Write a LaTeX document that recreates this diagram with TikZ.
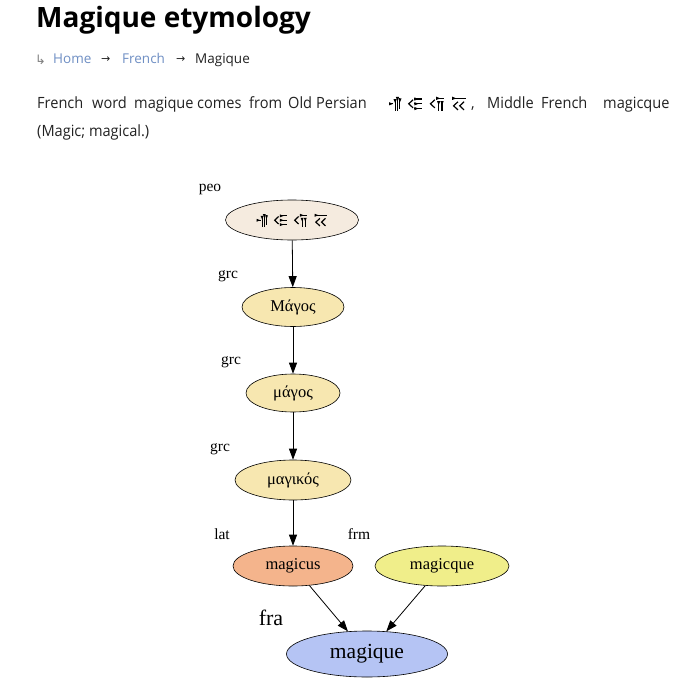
\documentclass[tikz,border=0pt]{standalone}
\usepackage{fontspec}
\setmainfont{Liberation Serif}
\newfontfamily\uifont{Open Sans}
\newfontfamily\bodyfont[FakeStretch=0.94]{Open Sans}
\newfontfamily\symfont{DejaVu Sans}
\usetikzlibrary{shapes.geometric,arrows.meta}
\definecolor{peofill}{HTML}{F5EBDF}
\definecolor{grcfill}{HTML}{F7E7B0}
\definecolor{latfill}{HTML}{F4B48C}
\definecolor{frmfill}{HTML}{F0EE8A}
\definecolor{frafill}{HTML}{B5C4F4}
\definecolor{linkcol}{HTML}{6F8FC4}
\definecolor{bodytext}{HTML}{222222}
% cuneiform wedge primitives (glyph units, y downwards)
\newcommand\cwV[3]{%
  \fill (#1-0.12,#2) -- (#1+0.12,#2) -- (#1,#2+0.3) -- cycle;
  \draw[line width=1.2pt] (#1,#2) -- (#1,#3);}
\newcommand\cwH[3]{%
  \fill (#2,#1-0.12) -- (#2,#1+0.12) -- (#2+0.3,#1) -- cycle;
  \draw[line width=1.2pt] (#2,#1) -- (#3,#1);}
\newcommand\cwW[2]{%
  \draw[line width=1.2pt,line join=miter] (#1+0.32,#2-0.3) -- (#1,#2) -- (#1+0.32,#2+0.3);}
\newcommand\cuneiform[3]{%
  \begin{scope}[shift={(#1,#2)},x=#3,y=-#3]
    % ma
    \cwH{0.5}{0}{0.32}
    \cwV{0.45}{0.15}{1}
    \cwV{0.62}{0}{1}
    \cwV{0.8}{0.1}{0.9}
    % gu
    \begin{scope}[xshift=1.45*#3]
      \cwW{0}{0.5}
      \cwH{0.15}{0.42}{1}
      \cwH{0.5}{0.42}{1}
      \cwH{0.85}{0.42}{1}
    \end{scope}
    % u
    \begin{scope}[xshift=3.05*#3]
      \cwW{0}{0.5}
      \cwH{0.1}{0.42}{1}
      \cwV{0.6}{0.3}{1}
      \cwV{0.85}{0.3}{1}
    \end{scope}
    % sha
    \begin{scope}[xshift=4.65*#3]
      \cwH{0.1}{0}{1}
      \cwW{0.1}{0.65}
      \cwW{0.55}{0.65}
    \end{scope}
  \end{scope}}
\tikzset{
  etym/.style={ellipse,draw=black,line width=0.6pt,inner sep=0pt,font=\fontsize{16.5}{16.5}\selectfont},
  lang/.style={anchor=center,font=\fontsize{15.5}{15.5}\selectfont,inner sep=0pt},
  link/.style={-{Triangle[length=11pt,width=8pt]},line width=0.8pt},
  ui/.style={anchor=base west,inner sep=0pt,font=\bodyfont\fontsize{15.5}{15.5}\selectfont,text=bodytext},
  crumb/.style={anchor=base west,inner sep=0pt,font=\uifont\fontsize{13.5}{13.5}\selectfont},
  arr/.style={anchor=base west,inner sep=0pt,font=\symfont\fontsize{11}{11}\selectfont},
}
\begin{document}
\begin{tikzpicture}[x=1pt,y=-1pt]
\useasboundingbox (0,0) rectangle (675,695);
\fill[white] (0,0) rectangle (675,695);
% title
\node[anchor=base west,inner sep=0pt,font=\uifont\bfseries\fontsize{28}{28}\selectfont,text=black] (title) at (36,28) {Magique etymology};
% breadcrumbs
\node[arr,font=\symfont\fontsize{13}{13}\selectfont,text=gray] (c0) at (35,65) {↳};
\node[crumb,text=linkcol] (c1) at (53,64) {Home};
\node[arr,text=bodytext] (c2) at (101,63) {→};
\node[crumb,text=linkcol] (c3) at (122,64) {French};
\node[arr,text=bodytext] (c4) at (176,63) {→};
\node[crumb,text=bodytext] (c5) at (195,64) {Magique};
% paragraph
\node[ui] (w1) at (37,109) {French};
\node[ui] (w2) at (92,109) {word};
\node[ui] (w3) at (134,109) {magique};
\node[ui] (w4) at (197,109) {comes};
\node[ui] (w5) at (249,109) {from};
\node[ui] (w6) at (288,109) {Old};
\node[ui] (w7) at (316,109) {Persian};
\cuneiform{389}{97}{13.6pt}
\node[ui] (w8) at (471,109) {,};
\node[ui] (w9) at (487,109) {Middle};
\node[ui] (w10) at (541,109) {French};
\node[ui] (w11) at (603,109) {magicque};
\node[ui] (p4) at (37,137) {(Magic; magical.)};
% graph nodes
\node[etym,fill=peofill,minimum width=133pt,minimum height=40pt] (peo) at (292,220) {};
\cuneiform{256.5}{214}{12.5pt}
\node[etym,fill=grcfill,minimum width=102pt,minimum height=39pt] (magos1) at (293,307) {Μάγος};
\node[etym,fill=grcfill,minimum width=94pt,minimum height=38pt] (magos2) at (293,393) {μάγος};
\node[etym,fill=grcfill,minimum width=116pt,minimum height=40pt] (magikos) at (293,480) {μαγικός};
\node[etym,fill=latfill,minimum width=120pt,minimum height=40pt] (magicus) at (293,566) {magicus};
\node[etym,fill=frmfill,minimum width=134pt,minimum height=40pt] (magicque) at (442,566) {magicque};
\node[etym,fill=frafill,minimum width=161pt,minimum height=46pt,font=\fontsize{21.5}{21.5}\selectfont] (magique) at (367,654) {magique};
% language labels
\node[lang] (lpeo) at (210,189) {peo};
\node[lang] (lgrc1) at (228,276) {grc};
\node[lang] (lgrc2) at (231,362) {grc};
\node[lang] (lgrc3) at (220,449) {grc};
\node[lang] (llat) at (222,534) {lat};
\node[lang] (lfrm) at (359,534) {frm};
\node[lang,font=\fontsize{22}{22}\selectfont] (lfra) at (271,618) {fra};
% connectors
\draw[link] (peo) -- (magos1);
\draw[link] (magos1) -- (magos2);
\draw[link] (magos2) -- (magikos);
\draw[link] (magikos) -- (magicus);
\draw[link] (magicus) -- (magique);
\draw[link] (magicque) -- (magique);
\end{tikzpicture}
\end{document}
